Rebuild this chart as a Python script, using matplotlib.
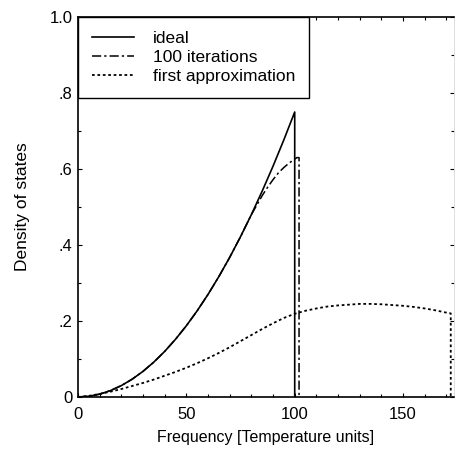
import numpy as np
import matplotlib
matplotlib.use("Agg")
import matplotlib.pyplot as plt
from matplotlib.ticker import MultipleLocator, FixedLocator

plt.rcParams['font.family'] = ['Liberation Sans', 'DejaVu Sans']

# values
ideal_x = [0, 5, 10, 15, 20, 25, 30, 35, 40, 45, 50, 55, 60, 65, 70, 75, 80, 85, 90, 95, 100, 100]
ideal_y = [0, 0.0019, 0.0075, 0.0169, 0.03, 0.0469, 0.0675, 0.0919, 0.12, 0.1519, 0.1875,
           0.2269, 0.27, 0.3169, 0.3675, 0.4219, 0.48, 0.5419, 0.6075, 0.6769, 0.75, 0]

iter_x = [0, 5, 10, 15, 20, 25, 30, 35, 40, 45, 50, 55, 60, 65, 70, 75, 80,
          82.5, 85, 87.5, 90, 92.5, 95, 97.5, 100, 101, 102, 102]
iter_y = [0, 0.0019, 0.0075, 0.0169, 0.03, 0.0469, 0.0675, 0.0919, 0.12, 0.1519, 0.1875,
          0.2269, 0.27, 0.3169, 0.3675, 0.4219, 0.48,
          0.505, 0.53, 0.552, 0.572, 0.59, 0.604, 0.616, 0.626, 0.63, 0.63, 0]

approx_x = [0, 5, 10, 15, 20, 25, 30, 35, 40, 45, 50, 55, 60, 65, 70, 75, 80, 85, 90, 95,
            100, 105, 110, 115, 120, 125, 130, 135, 140, 145, 150, 155, 160, 165, 170, 172, 172]
approx_y = [0, 0.003, 0.008, 0.014, 0.021, 0.029, 0.037, 0.046, 0.056, 0.066, 0.077, 0.089,
            0.102, 0.116, 0.131, 0.147, 0.163, 0.179, 0.194, 0.208, 0.219, 0.227, 0.233,
            0.238, 0.241, 0.243, 0.245, 0.245, 0.244, 0.242, 0.240, 0.237, 0.233, 0.228,
            0.222, 0.22, 0]

ytick_vals = [0, 0.2, 0.4, 0.6, 0.8, 1.0]
ytick_labels = ['0', '.2', '.4', '.6', '.8', '1.0']
xtick_vals = [0, 50, 100, 150]

fig = plt.figure(figsize=(4.55, 4.62), dpi=100)
ax = fig.add_axes([78 / 455, 65 / 462, 376 / 455, 380 / 462])

ax.plot(ideal_x, ideal_y, color='black', lw=1.2, label='ideal')
ax.plot(iter_x, iter_y, color='black', lw=1.1, dashes=(6, 2, 1.5, 2), label='100 iterations')
ax.plot(approx_x, approx_y, color='black', lw=1.3, dashes=(1.5, 1.5), label='first approximation')

ax.set_xlim(0, 173.5)
ax.set_ylim(0, 1.0)
ax.set_xticks(xtick_vals)
ax.xaxis.set_minor_locator(MultipleLocator(10))
ax.yaxis.set_major_locator(FixedLocator(ytick_vals))
ax.set_yticklabels(ytick_labels)
ax.yaxis.set_minor_locator(MultipleLocator(0.1))
ax.tick_params(which='both', direction='in', top=True, right=True, labelsize=12)
ax.tick_params(which='major', length=3, width=0.8)
ax.tick_params(which='minor', length=2, width=0.8)
ax.tick_params(axis='x', pad=7)
ax.tick_params(axis='y', pad=4)

for s in ['left', 'bottom', 'top']:
    ax.spines[s].set_linewidth(1.2)
ax.spines['right'].set_color('#d8d8d8')
ax.spines['right'].set_linewidth(0.6)

ax.set_xlabel('Frequency [Temperature units]', fontsize=11.5, labelpad=6)
ax.set_ylabel('Density of states', fontsize=12.5, labelpad=14)

leg = ax.legend(loc='upper left', borderaxespad=0, fancybox=False, framealpha=1,
                edgecolor='black', fontsize=12.5, handlelength=2.4, handletextpad=1.1,
                borderpad=0.8, labelspacing=0.22)
leg.get_frame().set_linewidth(1.0)

fig.savefig('out.png', dpi=100)
